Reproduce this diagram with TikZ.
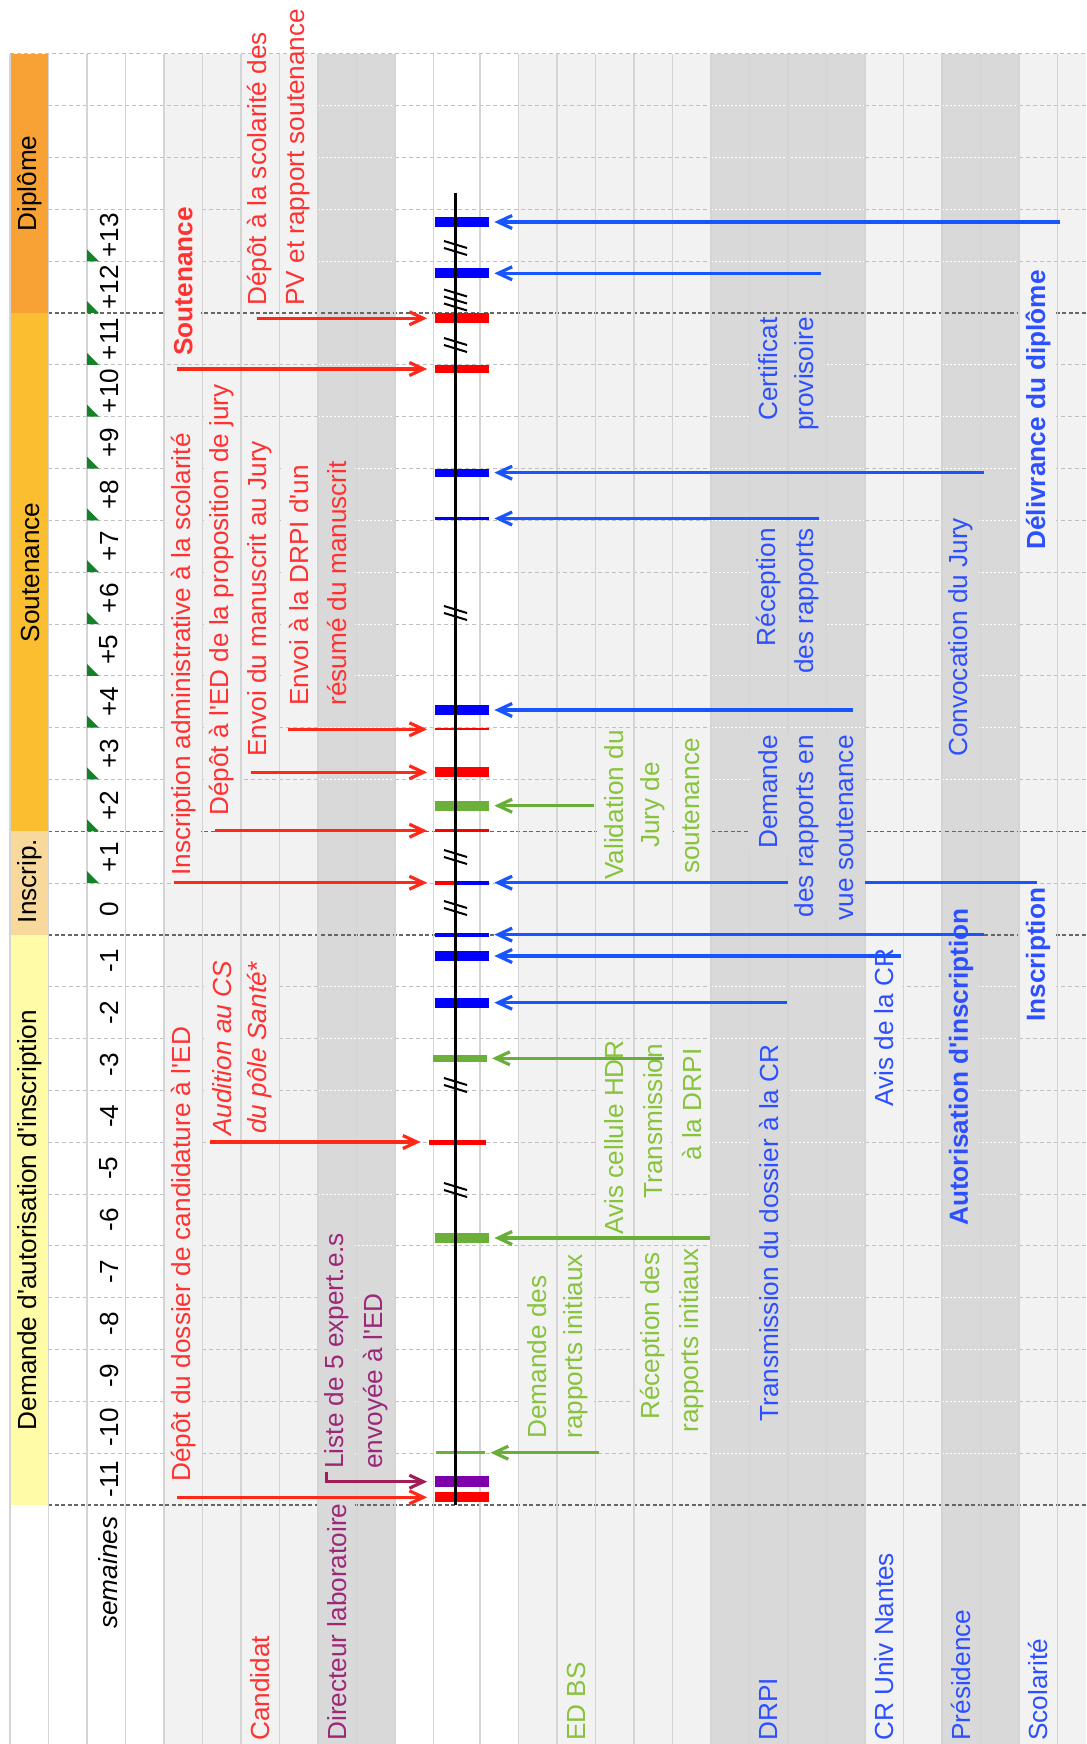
\documentclass[tikz,border=0pt]{standalone}
\usepackage{fontspec}
\setmainfont{Liberation Sans}[Ligatures=TeXOff]
\usetikzlibrary{arrows.meta,positioning,calc}

\definecolor{ltgray}{RGB}{242,242,242}
\definecolor{dkgray}{RGB}{217,217,217}
\definecolor{phDip}{RGB}{248,162,54}
\definecolor{phSout}{RGB}{251,190,48}
\definecolor{phIns}{RGB}{249,216,156}
\definecolor{phDem}{RGB}{255,251,166}
\definecolor{txtred}{RGB}{255,50,50}
\definecolor{arrred}{RGB}{255,40,25}
\definecolor{barred}{RGB}{255,0,0}
\definecolor{txtblue}{RGB}{45,80,255}
\definecolor{arrblue}{RGB}{25,85,255}
\definecolor{barblue}{RGB}{0,0,255}
\definecolor{txtgreen}{RGB}{135,195,60}
\definecolor{arrgreen}{RGB}{105,175,55}
\definecolor{bargreen}{RGB}{106,176,58}
\definecolor{txtpurple}{RGB}{155,40,120}
\definecolor{arrpurple}{RGB}{160,30,85}
\definecolor{barpurple}{RGB}{125,0,170}
\definecolor{trigreen}{RGB}{20,130,40}

\newcommand{\lblfont}{\fontsize{14.9}{17}\selectfont}

\begin{document}
\begin{tikzpicture}[x=0.02cm,y=-0.02cm]
\tikzstyle{lbl} = [rotate=90, anchor=west, font=\lblfont, inner xsep=0.02cm, inner ysep=0pt, minimum height=0.72cm]
\tikzstyle{onlt} = [lbl, fill=ltgray]
\tikzstyle{ondk} = [lbl, fill=dkgray]
\tikzstyle{wklbl} = [rotate=90, font=\lblfont, inner sep=0pt]
\tikzstyle{tbar} = [rectangle, inner sep=0pt, minimum width=1.08cm]
\tikzstyle{thickbar} = [tbar, minimum height=0.2cm]
\tikzstyle{thinbar} = [tbar, minimum height=0.06cm]
\tikzstyle{arr} = [line width=0.064cm, -{Straight Barb[length=0.28cm,width=0.26cm]}]
\tikzstyle{fromleft} = [arr, shorten >=0.15cm]
\tikzstyle{fromright} = [arr, shorten >=0.1cm]
\tikzstyle{timeline} = [line width=0.06cm, black]
\tikzstyle{brkline} = [line width=0.04cm, black]
\tikzstyle{colline} = [draw=black!17, line width=0.026cm]
\tikzstyle{rowline} = [draw=black!25, line width=0.02cm, dash pattern=on 0.08cm off 0.06cm]
\tikzstyle{rowlinedk} = [draw=white, line width=0.02cm, dash pattern=on 0.04cm off 0.04cm]
\tikzstyle{phaseline} = [draw=black!60, line width=0.025cm, dash pattern=on 0.08cm off 0.05cm]

\useasboundingbox (0,0) rectangle (1086,1744);

% Background columns
\fill[ltgray] (164,54) rectangle (318,1744);
\fill[dkgray] (318,54) rectangle (395,1744);
\fill[ltgray] (518.5,54) rectangle (711,1744);
\fill[dkgray] (711,54) rectangle (865,1744);
\fill[ltgray] (865,54) rectangle (942,1744);
\fill[dkgray] (942,54) rectangle (1019,1744);
\fill[ltgray] (1019,54) rectangle (1086,1744);

% Phases
\fill[phDip] (10,54) rectangle (48.5,313.1);
\fill[phSout] (10,313.1) rectangle (48.5,831.3);
\fill[phIns] (10,831.3) rectangle (48.5,934.9);
\fill[phDem] (10,934.9) rectangle (48.5,1505);

% Grid
\draw[rowline] (10,54) -- (1086,54);
\foreach \k in {1,2,3,4,6,7,8,9,10,11,12,13,14,16,18,19,20,21,22,23,24,25,26,27} {
  \pgfmathsetmacro{\yy}{54+\k*51.82}
  \foreach \a/\b in {48.5/318, 395/711, 865/942, 1019/1086}
    \draw[rowline] (\a,\yy) -- (\b,\yy);
  \foreach \a/\b in {318/395, 711/865, 942/1019}
    \draw[rowlinedk] (\a,\yy) -- (\b,\yy);
}
\foreach \k in {5,15,17,28}
  \draw[phaseline] (48.5,{54+\k*51.82}) -- (1086,{54+\k*51.82});
\fill[ltgray] (241,55) rectangle (318,306);
\foreach \x in {10,48.5,87,125.5,164,202.5,241,279.5,318,356.5,395,433.5,480,518.5,557,595.5,634,672.5,711,749.5,788,826.5,865,903.5,942,980.5,1019,1057.5}
  \draw[colline] (\x,54) -- (\x,1744);

% Phase titles
\node[wklbl] (pDip) at (30,183.5) {Diplôme};
\node[wklbl] (pSout) at (30,572.5) {Soutenance};
\node[wklbl] (pIns) at (30,881) {Inscrip.};
\node[wklbl] (pDem) at (30,1220) {Demande d'autorisation d'inscription};

% Weeks
\foreach \k in {3,...,27} {
  \pgfmathtruncatemacro{\wk}{16-\k}
  \ifnum\wk>0 \edef\wl{+\wk}\else\edef\wl{\wk}\fi
  \node[wklbl] (w\k) at (109,{54+(\k+0.5)*51.82}) {\wl};
}
\foreach \k in {3,...,15}
  \fill[trigreen] (87,{54+(\k+1)*51.82}) -- ++(12,0) -- ++(-12,-12) -- cycle;

% Bars on the timeline
\node[thickbar, fill=barblue] (bDeliv) at (462,222) {};
\node[thickbar, fill=barblue] (bCert) at (462,273.3) {};
\node[thickbar, fill=barred] (bDepSco) at (462,318.3) {};
\node[thickbar, fill=barred, minimum height=0.17cm] (bSout) at (462,369) {};
\node[tbar, fill=barblue, minimum height=0.155cm] (bConv) at (462,472.7) {};
\node[thinbar, fill=barblue] (bRec) at (462,518.5) {};
\node[thickbar, fill=barblue] (bDem) at (462,710) {};
\node[thinbar, fill=barred, minimum height=0.045cm] (bEnvDrpi) at (462,729.3) {};
\node[thickbar, fill=barred] (bEnvMan) at (462,772.3) {};
\node[thickbar, fill=bargreen] (bVal) at (462,805.7) {};
\node[thinbar, fill=barred] (bDepJury) at (462,830.7) {};
\node[tbar, fill=barred, minimum height=0.08cm, minimum width=0.44cm] (bInsAdm) at (446,882.7) {};
\node[tbar, fill=barblue, minimum height=0.08cm, minimum width=0.64cm] (bInscr) at (473,882.7) {};
\node[tbar, fill=barblue, minimum height=0.08cm] (bAutor) at (462,934.6) {};
\node[thickbar, fill=barblue] (bAvisCR) at (462,956) {};
\node[thickbar, fill=barblue] (bTransCR) at (462,1002.7) {};
\node[tbar, fill=bargreen, minimum height=0.13cm] (bAvisHDR) at (459.7,1058.3) {};
\node[tbar, fill=barred, minimum height=0.1cm, minimum width=1.14cm] (bAud) at (457,1142) {};
\node[thickbar, fill=bargreen] (bRecRap) at (462,1238) {};
\node[thinbar, fill=bargreen, minimum width=0.99cm] (bDemRap) at (460.4,1452.7) {};
\node[thickbar, fill=barpurple, minimum height=0.225cm] (bListe) at (462,1481.7) {};
\node[thickbar, fill=barred] (bDepDos) at (462,1497.3) {};

% Timeline and breaks
\coordinate (lineTop) at (455.5,193);
\coordinate (lineBot) at (455.5,1505);
\draw[timeline] (lineTop) -- (lineBot);
\foreach \yc/\n in {248/2, 300/3, 345/2, 613/2, 857/2, 908/2, 1085/2, 1190/2} {
  \foreach \s in {1,...,\n}
    \draw[brkline] (444,{\yc+(\s-(\n+1)/2)*7-3.5}) -- ++(23,7);
}

% Arrow tails
\coordinate (aDeliv) at (1060,222);
\coordinate (aCert) at (821,273.3);
\coordinate (aDepSco) at (256.5,318.3);
\coordinate (aSout) at (177.3,369);
\coordinate (aConv) at (984,472.7);
\coordinate (aRec) at (819,518.5);
\coordinate (aDem) at (853,710);
\coordinate (aEnvDrpi) at (287.5,729.3);
\coordinate (aEnvMan) at (250.7,772.3);
\coordinate (aVal) at (594,805.7);
\coordinate (aDepJury) at (215,830.7);
\coordinate (aInsAdm) at (174,882.7);
\coordinate (aInscr) at (1036.5,882.7);
\coordinate (aAutor) at (984,934.6);
\coordinate (aAvisCR) at (901,956);
\coordinate (aTransCR) at (787,1002.7);
\coordinate (aAvisHDR) at (664,1058.3);
\coordinate (aAud) at (210,1142);
\coordinate (aRecRap) at (710,1238);
\coordinate (aDemRap) at (599,1452.7);
\coordinate (aListe) at (326.7,1472);
\coordinate (aDepDos) at (177,1497.3);

\draw[fromright, arrblue] (aInscr) -- (bInscr);

% Candidat
\node[onlt, text=txtred] (tDepDos) at (183.3,1483) {Dépôt du dossier de candidature à l'ED};
\node[onlt, text=txtred, font=\lblfont\itshape] (tAudA) at (221.8,1137) {Audition au CS};
\node[onlt, text=txtred, font=\lblfont\itshape] (tAudB) at (260,1135) {du pôle Santé*};
\node[onlt, text=txtred] (tInsAdm) at (183.3,877) {Inscription administrative à la scolarité};
\node[onlt, text=txtred] (tDepJury) at (221.8,817) {Dépôt à l'ED de la proposition de jury};
\node[onlt, text=txtred] (tEnvMan) at (260,758) {Envoi du manuscrit au Jury};
\node[onlt, text=txtred] (tEnvDrpiA) at (298.5,707) {Envoi à la DRPI d'un};
\node[ondk, text=txtred] (tEnvDrpiB) at (337,707) {résumé du manuscrit};
\node[onlt, text=txtred, font=\lblfont\bfseries] (tSout) at (183.3,357) {Soutenance};
\node[lbl, text=txtred] (tDepScoA) at (260,307) {Dépôt à la scolarité des};
\node[lbl, text=txtred] (tDepScoB) at (298.5,307) {PV et rapport soutenance};

% Directeur
\node[ondk, text=txtpurple] (tListeA) at (337,1470) {Liste de 5 expert.e.s};
\node[ondk, text=txtpurple] (tListeB) at (375.5,1470) {envoyée à l'ED};

% ED BS
\node[onlt, text=txtgreen] (tDemRapA) at (537.5,1440) {Demande des};
\node[onlt, text=txtgreen] (tDemRapB) at (576,1440) {rapports initiaux};
\node[onlt, text=txtgreen] (tRecRapA) at (653,1421) {Réception des};
\node[onlt, text=txtgreen] (tRecRapB) at (691.5,1434) {rapports initiaux};
\node[onlt, text=txtgreen] (tAvisHDR) at (614.5,1236) {Avis cellule HDR};
\node[onlt, text=txtgreen] (tTransA) at (653,1200) {Transmission};
\node[onlt, text=txtgreen] (tTransB) at (691.5,1162) {à la DRPI};
\node[onlt, text=txtgreen, anchor=center] (tValA) at (614.5,805) {Validation du};
\node[onlt, text=txtgreen, anchor=center] (tValB) at (653,805) {Jury de};
\node[onlt, text=txtgreen, anchor=center] (tValC) at (691.5,806) {soutenance};

% DRPI, CR, Presidence, Scolarite
\node[ondk, text=txtblue] (tTransCR) at (768.5,1423) {Transmission du dossier à la CR};
\node[onlt, text=txtblue] (tAvisCR) at (884,1108) {Avis de la CR};
\node[ondk, text=txtblue, font=\lblfont\bfseries] (tAutor) at (961,1227) {Autorisation d'inscription};
\node[onlt, text=txtblue, font=\lblfont\bfseries] (tInscr) at (1038,1023) {Inscription};
\node[ondk, text=txtblue, anchor=east, minimum height=0.77cm] (tDemA) at (768.5,734) {Demande};
\node[ondk, text=txtblue, anchor=east, minimum height=0.77cm] (tDemB) at (807,734) {des rapports en};
\node[ondk, text=txtblue, anchor=east, minimum height=0.77cm] (tDemC) at (845.5,734) {vue soutenance};
\node[ondk, text=txtblue] (tConv) at (961,758) {Convocation du Jury};
\node[ondk, text=txtblue, anchor=east] (tRecA) at (768.5,527) {Réception};
\node[ondk, text=txtblue, anchor=east] (tRecB) at (807,527) {des rapports};
\node[ondk, text=txtblue, anchor=east] (tCertA) at (768.5,316) {Certificat};
\node[ondk, text=txtblue, anchor=east] (tCertB) at (807,316) {provisoire};
\node[onlt, text=txtblue, font=\lblfont\bfseries] (tDeliv) at (1038,551) {Délivrance du diplôme};

% Row labels
\node[lbl, font=\lblfont\itshape] (lSem) at (108,1630) {semaines};
\node[onlt, text=txtred] (lCand) at (260,1742) {Candidat};
\node[ondk, text=txtpurple] (lDir) at (337,1742) {Directeur laboratoire};
\node[onlt, text=txtgreen] (lEDBS) at (576,1742) {ED BS};
\node[ondk, text=txtblue] (lDRPI) at (768.5,1742) {DRPI};
\node[onlt, text=txtblue] (lCR) at (884,1742) {CR Univ Nantes};
\node[ondk, text=txtblue] (lPres) at (961,1742) {Présidence};
\node[onlt, text=txtblue] (lScol) at (1038,1742) {Scolarité};

% Connections
\draw[fromleft, arrred] (aDepSco) -- (bDepSco);
\draw[fromleft, arrred] (aSout) -- (bSout);
\draw[fromleft, arrred] (aEnvDrpi) -- (bEnvDrpi);
\draw[fromleft, arrred] (aEnvMan) -- (bEnvMan);
\draw[fromleft, arrred] (aDepJury) -- (bDepJury);
\draw[fromleft, arrred] (aInsAdm) -- (bInsAdm);
\draw[fromleft, arrred] (aAud) -- (bAud);
\draw[fromleft, arrred] (aDepDos) -- (bDepDos);
\draw[fromleft, arrpurple] (aListe) |- (bListe);

\draw[fromright, arrblue] (aDeliv) -- (bDeliv);
\draw[fromright, arrblue] (aCert) -- (bCert);
\draw[fromright, arrblue] (aConv) -- (bConv);
\draw[fromright, arrblue] (aRec) -- (bRec);
\draw[fromright, arrblue] (aDem) -- (bDem);
\draw[fromright, arrblue] (aAutor) -- (bAutor);
\draw[fromright, arrblue] (aAvisCR) -- (bAvisCR);
\draw[fromright, arrblue] (aTransCR) -- (bTransCR);

\draw[fromright, arrgreen] (aVal) -- (bVal);
\draw[fromright, arrgreen] (aAvisHDR) -- (bAvisHDR);
\draw[fromright, arrgreen] (aRecRap) -- (bRecRap);
\draw[fromright, arrgreen] (aDemRap) -- (bDemRap);

\end{tikzpicture}
\end{document}
